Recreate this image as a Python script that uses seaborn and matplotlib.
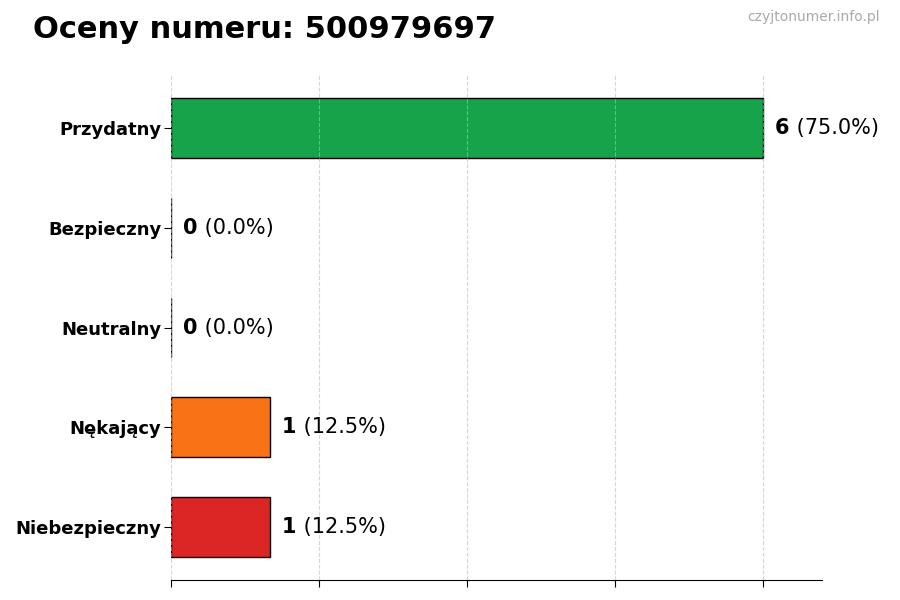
import numpy as np
import pandas as pd
import matplotlib
matplotlib.use('Agg')
import matplotlib.pyplot as plt
import seaborn as sns

## ============================================================= ##

categories = ['Przydatny', 'Bezpieczny', 'Neutralny', 'Nękający', 'Niebezpieczny']
counts = [6, 0, 0, 1, 1]
colors = ['#16a34a', '#6b7280', '#9ca3af', '#f97316', '#dc2626']
title = 'Oceny numeru: 500979697'
watermark = 'czyjtonumer.info.pl'

total = sum(counts)
df = pd.DataFrame({'kategoria': categories, 'liczba': counts})

## ============================================================= ##

sns.set_style('white')
plt.rcParams['font.family'] = ['DejaVu Sans']
plt.rcParams['text.color'] = 'black'
plt.rcParams['xtick.color'] = 'black'
plt.rcParams['ytick.color'] = 'black'

fig, ax = plt.subplots(figsize=(9, 6), dpi=100)
fig.subplots_adjust(left=0.19, right=0.913, top=0.875, bottom=0.0333)

sns.barplot(data=df, x='liczba', y='kategoria', hue='kategoria', palette=colors,
            legend=False, edgecolor='black', linewidth=1, width=0.6, ax=ax,
            orient='h', saturation=1, zorder=2)

ax.set_xlim(0, max(counts) * 1.1)
ax.set_ylim(len(categories) - 0.47, -0.53)
ax.set_xticks(np.arange(0, max(counts) + 0.1, max(counts) / 4))
ax.set_xticklabels([])
ax.set_xlabel('')
ax.set_ylabel('')
ax.grid(axis='x', linestyle='--', color='#bbbbbb', alpha=0.6, lw=0.8, zorder=3)
ax.set_axisbelow(False)
for s in ['top', 'right', 'left']:
    ax.spines[s].set_visible(False)
ax.spines['bottom'].set_color('black')
ax.tick_params(axis='both', which='major', length=5, width=0.8, color='black',
               left=True, bottom=True)
ax.tick_params(axis='y', pad=2)
for lab in ax.get_yticklabels():
    lab.set_fontweight('bold')
    lab.set_fontsize(13)
    lab.set_color('black')

for i, v in enumerate(counts):
    t = ax.annotate(str(v), xy=(v, i), xytext=(9, 0), textcoords='offset points',
                    va='center', ha='left', fontsize=15, fontweight='bold', color='black')
    ax.annotate(' (%.1f%%)' % (100.0 * v / total), xy=(1, 0.5), xycoords=t,
                va='center', ha='left', fontsize=15, color='black')

fig.text(0.037, 0.95, title, fontsize=22, fontweight='bold', ha='left', va='center',
         color='black')
fig.text(0.978, 0.972, watermark, fontsize=10, color='#aaaaaa', ha='right', va='center')

fig.savefig('out.png', dpi=100)
